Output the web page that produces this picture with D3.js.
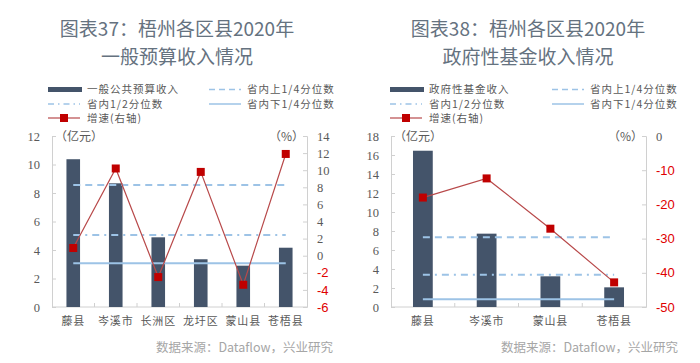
<!DOCTYPE html>
<html>
<head>
<meta charset="utf-8">
<script src="https://cdn.jsdelivr.net/npm/d3@7"></script>
<style>
  body { margin: 0; background: #fff; }
  svg { display: block; }
</style>
</head>
<body>
<div id="chart"></div>
<script>
// left panel: 一般预算收入
const cats1 = ["藤县", "岑溪市", "长洲区", "龙圩区", "蒙山县", "苍梧县"];
const income1 = [10.37, 8.68, 4.89, 3.35, 2.9, 4.16];
const growth1 = [0.9, 10.2, -2.5, 9.8, -3.4, 11.9];
const quartiles1 = [8.56, 5.05, 3.07]; // upper, median, lower
const leftTicks1 = [0, 2, 4, 6, 8, 10, 12];
const rightTicks1 = [-6, -4, -2, 0, 2, 4, 6, 8, 10, 12, 14];

// right panel: 政府性基金收入
const cats2 = ["藤县", "岑溪市", "蒙山县", "苍梧县"];
const income2 = [16.45, 7.72, 3.23, 2.07];
const growth2 = [-18.0, -12.4, -27.1, -42.8];
const quartiles2 = [7.33, 3.4, 0.81];
const leftTicks2 = [0, 2, 4, 6, 8, 10, 12, 14, 16, 18];
const rightTicks2 = [-50, -40, -30, -20, -10, 0];

const W = 700, H = 363;
const barColor = "#44546a";
const lineRed = "#b8494a";
const markerRed = "#c00000";
const quartBlue = "#9dc3e6";
const axisGray = "#d0d0d0";
const textGray = "#595959";
const cjk = "'Noto Sans CJK SC', sans-serif";
const serif = "'Liberation Serif', 'Times New Roman', 'DejaVu Serif', serif";

const svg = d3.select("#chart").append("svg")
  .attr("width", W).attr("height", H);

function drawPanel(p) {
  const g = svg.append("g").attr("transform", `translate(${p.ox},0)`);
  const top = 136, bottom = 307;

  // title
  [p.title1, p.title2].forEach((t, i) => {
    g.append("text").attr("x", p.titleX).attr("y", 36 + i * 28)
      .attr("text-anchor", "middle")
      .style("font-family", cjk).style("font-size", "19px")
      .style("font-weight", 400).style("fill", "#65727f")
      .text(t);
  });

  // legend
  const lg = g.append("g").style("font-family", cjk).style("font-size", "10.5px").style("fill", textGray);
  const c1 = p.legX1, c2 = p.legX2;
  lg.append("rect").attr("x", c1).attr("y", 87).attr("width", 34).attr("height", 5).attr("fill", barColor);
  lg.append("text").attr("x", c1 + 39).attr("y", 93).style("letter-spacing", "1px").text(p.barName);
  lg.append("line").attr("x1", c2).attr("x2", c2 + 32).attr("y1", 89.5).attr("y2", 89.5)
    .attr("stroke", quartBlue).attr("stroke-width", 1.5).attr("stroke-dasharray", "6,4");
  lg.append("text").attr("x", c2 + 38).attr("y", 93).style("letter-spacing", "1px").text("省内上1/4分位数");
  lg.append("line").attr("x1", c1).attr("x2", c1 + 32).attr("y1", 104).attr("y2", 104)
    .attr("stroke", quartBlue).attr("stroke-width", 1.5).attr("stroke-dasharray", "6,4,1.5,4");
  lg.append("text").attr("x", c1 + 39).attr("y", 108).style("letter-spacing", "1px").text("省内1/2分位数");
  lg.append("line").attr("x1", c2).attr("x2", c2 + 32).attr("y1", 104).attr("y2", 104)
    .attr("stroke", quartBlue).attr("stroke-width", 1.5);
  lg.append("text").attr("x", c2 + 38).attr("y", 108).style("letter-spacing", "1px").text("省内下1/4分位数");
  lg.append("line").attr("x1", c1).attr("x2", c1 + 32).attr("y1", 118).attr("y2", 118)
    .attr("stroke", lineRed).attr("stroke-width", 1.2);
  lg.append("rect").attr("x", c1 + 12).attr("y", 114).attr("width", 8).attr("height", 8).attr("fill", markerRed);
  lg.append("text").attr("x", c1 + 39).attr("y", 122).style("letter-spacing", "1px").text("增速(右轴)");

  // scales
  const x = d3.scaleBand().domain(p.cats).range([p.x0, p.x1]);
  const y = d3.scaleLinear().domain(p.yDomain).range([bottom, top]);
  const y2 = d3.scaleLinear().domain(p.y2Domain).range([bottom, top]);
  const cx = d => x(d) + x.bandwidth() / 2;

  // left axis
  const axL = g.append("g").attr("transform", `translate(${p.x0},0)`)
    .call(d3.axisLeft(y).tickValues(p.leftTicks).tickFormat(d => String(d)).tickSize(-4).tickPadding(12));
  axL.attr("font-family", null);
  axL.select(".domain").attr("stroke", axisGray);
  axL.selectAll(".tick line").attr("stroke", axisGray);
  axL.selectAll("text").attr("font-family", serif).attr("font-size", 12.5).attr("fill", textGray);

  // right axis
  const axR = g.append("g").attr("transform", `translate(${p.x1},0)`)
    .call(d3.axisRight(y2).tickValues(p.rightTicks).tickFormat(d => String(d)).tickSize(-4).tickPadding(10));
  axR.attr("font-family", null);
  axR.select(".domain").attr("stroke", axisGray);
  axR.selectAll(".tick line").attr("stroke", axisGray);
  axR.selectAll("text")
    .attr("font-family", d => d < 0 ? "'Liberation Sans', Arial, sans-serif" : serif)
    .attr("font-size", d => d < 0 ? 13 : 12.5)
    .attr("fill", d => d < 0 ? "#e00000" : textGray);

  // bottom axis, ticks between categories
  g.append("line").attr("x1", p.x0).attr("x2", p.x1).attr("y1", bottom).attr("y2", bottom).attr("stroke", axisGray);
  g.selectAll(".btick").data(p.cats.slice(1)).join("line")
    .attr("x1", d => x(d)).attr("x2", d => x(d))
    .attr("y1", bottom).attr("y2", bottom - 4).attr("stroke", axisGray);
  g.selectAll(".cat").data(p.cats).join("text")
    .attr("x", cx).attr("y", 325).attr("text-anchor", "middle")
    .style("font-family", cjk).style("font-size", "11px").style("letter-spacing", "0.8px")
    .style("fill", textGray).text(d => d);

  // unit labels
  g.append("text").attr("x", p.x0 + 3).attr("y", 141)
    .style("font-family", cjk).style("font-size", "12px").style("fill", textGray).text("（亿元）");
  g.append("text").attr("x", p.x1 - 3).attr("y", 141).attr("text-anchor", "end")
    .style("font-family", cjk).style("font-size", "12px").style("fill", textGray).text("（%）");

  // bars
  const bw = x.bandwidth() * p.barFrac;
  g.selectAll(".bar").data(p.income).join("rect")
    .attr("x", (d, i) => cx(p.cats[i]) - bw / 2)
    .attr("y", d => y(d))
    .attr("width", bw)
    .attr("height", d => bottom - y(d))
    .attr("fill", barColor);

  // quartile lines span first to last category centre
  const qx1 = cx(p.cats[0]), qx2 = cx(p.cats[p.cats.length - 1]);
  const dashes = ["7,5", "7,5,2,5", null];
  p.quartiles.forEach((q, i) => {
    g.append("line").attr("x1", qx1).attr("x2", qx2).attr("y1", y(q)).attr("y2", y(q))
      .attr("stroke", quartBlue).attr("stroke-width", 2)
      .attr("stroke-dasharray", dashes[i]);
  });

  // growth line
  const line = d3.line().x((d, i) => cx(p.cats[i])).y(d => y2(d));
  g.append("path").datum(p.growth).attr("d", line)
    .attr("fill", "none").attr("stroke", lineRed).attr("stroke-width", 1.2);
  g.selectAll(".mk").data(p.growth).join("rect")
    .attr("x", (d, i) => cx(p.cats[i]) - 4)
    .attr("y", d => y2(d) - 4)
    .attr("width", 8).attr("height", 8)
    .attr("fill", markerRed);

  // source
  g.append("text").attr("x", p.srcX).attr("y", 352).attr("text-anchor", "end")
    .style("font-family", cjk).style("font-size", "12.5px").style("fill", "#a6a6a6")
    .text("数据来源：Dataflow，兴业研究");
}

drawPanel({
  ox: 0, title1: "图表37：梧州各区县2020年", title2: "一般预算收入情况", titleX: 177,
  barName: "一般公共预算收入", legX1: 48, legX2: 209,
  cats: cats1, income: income1, growth: growth1, quartiles: quartiles1,
  leftTicks: leftTicks1, rightTicks: rightTicks1,
  yDomain: [0, 12], y2Domain: [-6, 14],
  x0: 52, x1: 307, barFrac: 0.32, srcX: 333
});

drawPanel({
  ox: 350, title1: "图表38：梧州各区县2020年", title2: "政府性基金收入情况", titleX: 178,
  barName: "政府性基金收入", legX1: 40, legX2: 202,
  cats: cats2, income: income2, growth: growth2, quartiles: quartiles2,
  leftTicks: leftTicks2, rightTicks: rightTicks2,
  yDomain: [0, 18], y2Domain: [-50, 0],
  x0: 41, x1: 296, barFrac: 0.31, srcX: 328
});
</script>
</body>
</html>
